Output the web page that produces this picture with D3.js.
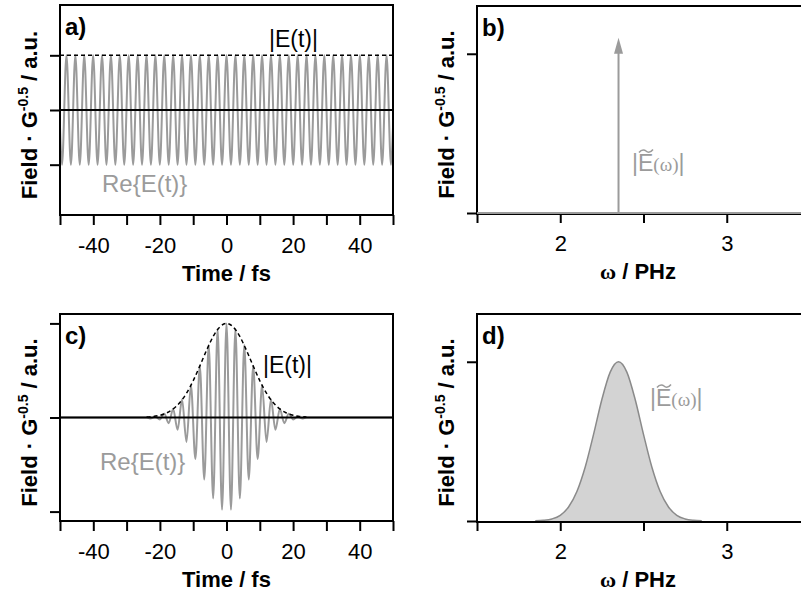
<!DOCTYPE html>
<html><head><meta charset="utf-8">
<script src="https://cdn.jsdelivr.net/npm/d3@7"></script>
<style>
html,body{margin:0;padding:0;background:#fff;}
text{font-family:"Liberation Sans",Arial,sans-serif;}
</style></head>
<body><svg id="c" width="801" height="597"></svg>
<script>
// ---------- DATA ----------
// time axis ticks (fs)
const timeTicks = [-50,-40,-30,-20,-10,0,10,20,30,40,50];
const timeTickLabels = ["","-40","","-20","","0","","20","","40",""];
// frequency axis ticks (PHz)
const freqTicks = [1.5,2,2.5,3,3.5];
const freqTickLabels = ["","2","","3",""];
// panel a: carrier crests/troughs of Re{E(t)} (constant amplitude)
const tA = [-50,-49.40,-48.06,-46.73,-45.39,-44.06,-42.72,-41.39,-40.05,-38.72,-37.38,-36.05,-34.71,-33.38,-32.04,-30.71,-29.37,-28.04,-26.70,-25.37,-24.03,-22.70,-21.36,-20.03,-18.69,-17.36,-16.02,-14.69,-13.35,-12.02,-10.68,-9.35,-8.01,-6.68,-5.34,-4.01,-2.67,-1.34,0,1.34,2.67,4.01,5.34,6.68,8.01,9.35,10.68,12.02,13.35,14.69,16.02,17.36,18.69,20.03,21.36,22.70,24.03,25.37,26.70,28.04,29.37,30.71,32.04,33.38,34.71,36.05,37.38,38.72,40.05,41.39,42.72,44.06,45.39,46.73,48.06,49.40,50];
const reA = [-0.31,-1,1,-1,1,-1,1,-1,1,-1,1,-1,1,-1,1,-1,1,-1,1,-1,1,-1,1,-1,1,-1,1,-1,1,-1,1,-1,1,-1,1,-1,1,-1,1,-1,1,-1,1,-1,1,-1,1,-1,1,-1,1,-1,1,-1,1,-1,1,-1,1,-1,1,-1,1,-1,1,-1,1,-1,1,-1,1,-1,1,-1,1,-1,-0.31];
const envAT = [-50,50];
const envA = [1,1];
// panel c: pulse crests/troughs of Re{E(t)}
const tC = [-50,-24.03,-22.70,-21.36,-20.03,-18.69,-17.36,-16.02,-14.69,-13.35,-12.02,-10.68,-9.35,-8.01,-6.68,-5.34,-4.01,-2.67,-1.34,0,1.34,2.67,4.01,5.34,6.68,8.01,9.35,10.68,12.02,13.35,14.69,16.02,17.36,18.69,20.03,21.36,22.70,24.03,50];
const reC = [0,0,-0.01,0.01,-0.02,0.04,-0.06,0.09,-0.13,0.19,-0.26,0.34,-0.44,0.55,-0.66,0.77,-0.86,0.94,-0.98,1.00,-0.98,0.94,-0.86,0.77,-0.66,0.55,-0.44,0.34,-0.26,0.19,-0.13,0.09,-0.06,0.04,-0.02,0.01,-0.01,0,0];
// panel c: envelope |E(t)|
const envCT = [-24,-22,-20,-18,-16,-14,-12,-10,-8,-6,-4,-2,0,2,4,6,8,10,12,14,16,18,20,22,24];
const envC = [0.005,0.011,0.023,0.048,0.091,0.159,0.259,0.391,0.549,0.713,0.861,0.963,1,0.963,0.861,0.713,0.549,0.391,0.259,0.159,0.091,0.048,0.023,0.011,0.005];
// panel b: monochromatic line
const lineW = 2.35, lineAmp = 1.1;
const baseW = [1.5,3.5], baseAmp = [0,0];
// panel d: spectrum |E~(w)|
const specW = [1.85,1.90,1.95,2.00,2.05,2.10,2.15,2.20,2.25,2.30,2.35,2.40,2.45,2.50,2.55,2.60,2.65,2.70,2.75,2.80,2.85];
const specAmp = [0.001,0.004,0.013,0.036,0.088,0.185,0.339,0.544,0.763,0.935,1,0.935,0.763,0.544,0.339,0.185,0.088,0.036,0.013,0.004,0.001];

// ---------- DRAW ----------
const svg = d3.select("#c");
const GRAY = "#9b9b9b";
const FS = 22;

function frame(x, y, yTicks, opts){
  const [xa,xb] = x.range(), [yb,ya] = y.range();
  const g = svg.append("g");
  const ax = g.append("g").attr("transform",`translate(0,${yb})`)
    .call(d3.axisBottom(x).tickValues(opts.xTicks).tickSize(10).tickFormat((d,i)=>opts.xLabels[i]));
  ax.select(".domain").remove();
  ax.selectAll("line").attr("stroke","#000").attr("stroke-width",2);
  ax.selectAll("text").attr("y",38).attr("dy",0).attr("font-size",FS).attr("fill","#000")
    .style("font-family","'Liberation Sans',Arial,sans-serif");
  const ay = g.append("g").attr("transform",`translate(${xa},0)`)
    .call(d3.axisLeft(y).tickValues(yTicks).tickSize(10).tickFormat(""));
  ay.select(".domain").remove();
  ay.selectAll("line").attr("stroke","#000").attr("stroke-width",2);
  g.append("rect").attr("x",xa).attr("y",ya).attr("width",xb-xa).attr("height",yb-ya+(opts.boxExtra||0))
    .attr("fill","none").attr("stroke","#000").attr("stroke-width",2);
  const xt = g.append("text").attr("x",opts.xTitleX ?? (xa+xb)/2).attr("y",yb+66)
    .attr("text-anchor","middle").attr("font-weight","bold").attr("font-size",FS);
  if(opts.omega){
    xt.append("tspan").attr("font-family","'Liberation Serif',serif").text("ω");
    xt.append("tspan").text(" / PHz");
  } else xt.text("Time / fs");
  const yt = g.append("text").attr("transform",`translate(${xa-23},${(ya+yb)/2+5}) rotate(-90)`)
    .attr("text-anchor","middle").attr("font-weight","bold").attr("font-size",FS);
  yt.append("tspan").text("Field · G");
  yt.append("tspan").attr("font-size",14).attr("dy",-9).text("-0.5");
  yt.append("tspan").attr("dy",9).text(" / a.u.");
  g.append("text").attr("x",xa+5).attr("y",ya+30).attr("font-weight","bold").attr("font-size",24).text(opts.label);
  return g;
}

function etLabel(x,y,color,re){
  svg.append("text").attr("x",x).attr("y",y).attr("font-size",re?24:23).attr("fill",color)
    .text(re ? "Re{E(t)}" : "|E(t)|");
}
function ewLabel(x,y){
  const t = svg.append("text").attr("x",x).attr("y",y).attr("font-size",23).attr("fill",GRAY);
  t.append("tspan").text("|E");
  t.append("tspan").attr("font-size",19).attr("font-family","'Liberation Serif',serif").text("(ω)");
  t.append("tspan").text("|");
  // tilde accent over the E
  const x0 = x + 7, y0 = y - 20;
  svg.append("path")
    .attr("d",`M${x0},${y0+1.5} C${x0+3},${y0-2.5} ${x0+6},${y0-1} ${x0+7},${y0} S${x0+11},${y0+2.5} ${x0+14},${y0-1.5}`)
    .attr("fill","none").attr("stroke",GRAY).attr("stroke-width",1.5);
}

// panel a
const xA = d3.scaleLinear([-50,50],[60,393]);
const yA = d3.scaleLinear([-1.92,1.92],[215,5]);
svg.append("clipPath").attr("id","ca").append("rect").attr("x",60).attr("y",5).attr("width",333).attr("height",210);
svg.append("path").datum(tA.map((t,i)=>[t,reA[i]]))
  .attr("clip-path","url(#ca)")
  .attr("d",d3.line().x(d=>xA(d[0])).y(d=>yA(d[1])).curve(d3.curveMonotoneX))
  .attr("fill","none").attr("stroke",GRAY).attr("stroke-width",2);
svg.append("path").datum(envAT.map((t,i)=>[t,envA[i]]))
  .attr("d",d3.line().x(d=>xA(d[0])).y(d=>yA(d[1])))
  .attr("fill","none").attr("stroke","#000").attr("stroke-width",1.5).attr("stroke-dasharray","4,3");
svg.append("path").datum([[-50,0],[50,0]])
  .attr("d",d3.line().x(d=>xA(d[0])).y(d=>yA(d[1])))
  .attr("stroke","#000").attr("stroke-width",2);
frame(xA,yA,[-1,0,1],{xTicks:timeTicks,xLabels:timeTickLabels,label:"a)"});
etLabel(269,47,"#000",false);
etLabel(102,192,GRAY,true);

// panel b
const xB = d3.scaleLinear([1.5,3.5],[477,810]);
const yB = d3.scaleLinear([0,1.3],[213,6]);
frame(xB,yB,[0,1],{xTicks:freqTicks,xLabels:freqTickLabels,label:"b)",omega:true,xTitleX:638,boxExtra:1});
svg.append("path").datum(baseW.map((w,i)=>[w,baseAmp[i]]))
  .attr("d",d3.line().x(d=>xB(d[0])).y(d=>yB(d[1])))
  .attr("stroke",GRAY).attr("stroke-width",2);
{
  const ax = xB(lineW), tip = yB(lineAmp);
  svg.append("line").attr("x1",ax).attr("x2",ax).attr("y1",yB(0)).attr("y2",tip+12)
    .attr("stroke",GRAY).attr("stroke-width",2);
  svg.append("path").attr("d",`M${ax},${tip} L${ax-4.5},${tip+16} L${ax+4.5},${tip+16} Z`).attr("fill",GRAY);
}
ewLabel(632,171);

// panel c
const xC = d3.scaleLinear([-50,50],[60,393]);
const yC = d3.scaleLinear([-1.1,1.1],[521,314]);
svg.append("path").datum(tC.map((t,i)=>[t,reC[i]]))
  .attr("d",d3.line().x(d=>xC(d[0])).y(d=>yC(d[1])).curve(d3.curveMonotoneX))
  .attr("fill","none").attr("stroke",GRAY).attr("stroke-width",2);
svg.append("path").datum([[-50,0],[50,0]])
  .attr("d",d3.line().x(d=>xC(d[0])).y(d=>yC(d[1])))
  .attr("stroke","#000").attr("stroke-width",2);
svg.append("path").datum(envCT.map((t,i)=>[t,envC[i]]))
  .attr("d",d3.line().x(d=>xC(d[0])).y(d=>yC(d[1])).curve(d3.curveMonotoneX))
  .attr("fill","none").attr("stroke","#000").attr("stroke-width",1.5).attr("stroke-dasharray","4,3");
frame(xC,yC,[-1,0,1],{xTicks:timeTicks,xLabels:timeTickLabels,label:"c)"});
etLabel(263,373,"#000",false);
etLabel(100,470,GRAY,true);

// panel d
const xD = d3.scaleLinear([1.5,3.5],[477,810]);
const yD = d3.scaleLinear([0,1.3],[521,314]);
const specData = specW.map((w,i)=>[w,specAmp[i]]);
svg.append("path").datum(specData)
  .attr("d",d3.area().x(d=>xD(d[0])).y0(yD(0)).y1(d=>yD(d[1])).curve(d3.curveMonotoneX))
  .attr("fill","#d3d3d3");
svg.append("path").datum(specData)
  .attr("d",d3.line().x(d=>xD(d[0])).y(d=>yD(d[1])).curve(d3.curveMonotoneX))
  .attr("fill","none").attr("stroke","#8a8a8a").attr("stroke-width",1.5);
frame(xD,yD,[0,1],{xTicks:freqTicks,xLabels:freqTickLabels,label:"d)",omega:true,xTitleX:638,boxExtra:1});
ewLabel(650,406);
</script></body></html>
